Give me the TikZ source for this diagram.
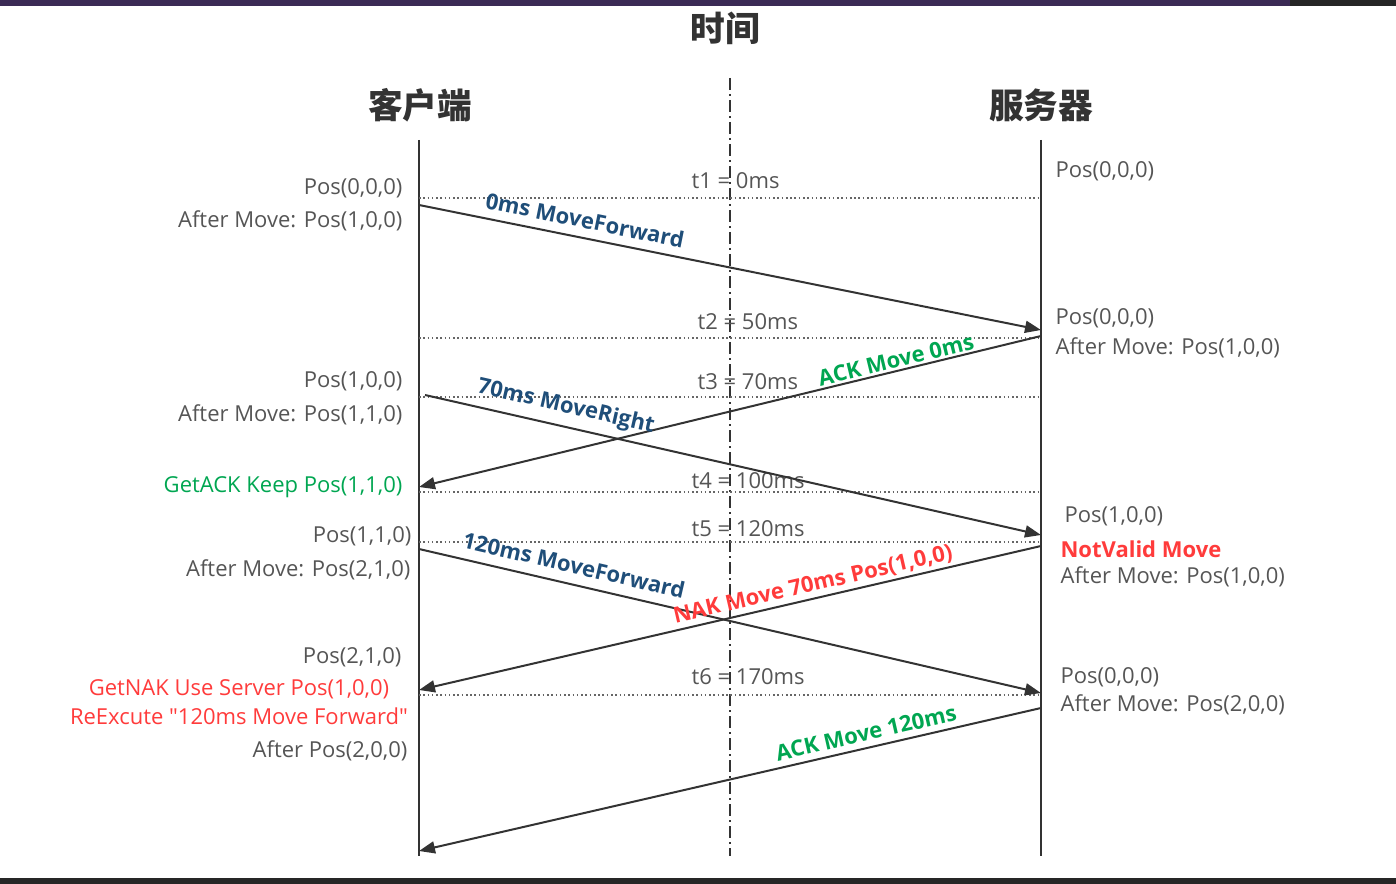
\documentclass[tikz,border=0pt]{standalone}
\usepackage{fontspec}
\setmainfont{Open Sans}
\newfontfamily\rawq{Open Sans}[Ligatures=ResetAll]
\newfontfamily\cjk{Noto Sans CJK SC}
\usetikzlibrary{arrows.meta}
\definecolor{txt}{HTML}{555555}
\definecolor{msgblue}{HTML}{1F4E79}
\definecolor{msggreen}{HTML}{00A651}
\definecolor{msgred}{HTML}{FF3B3B}
\begin{document}
\begin{tikzpicture}[x=0.75pt,y=-0.75pt,
  lbl/.style={font=\fontsize{16.5}{19}\selectfont,text=txt,inner sep=1pt},
  hdr/.style={font=\cjk\bfseries\fontsize{26}{29}\selectfont,text=black!80},
  msg/.style={font=\bfseries\fontsize{16.5}{19}\selectfont,inner sep=1pt},
  life/.style={line width=1.5pt,black!80},
  tick/.style={dotted,line width=1.2pt,black!60},
  arr/.style={line width=1.5pt,black!80,-{Triangle[length=12pt,width=9pt]}}]
\useasboundingbox (0,0) rectangle (1396,884);
\fill[fill={rgb,255:red,59;green,42;blue,85}] (0,0) rectangle (1396,6);
\fill[black!85] (1290,0) rectangle (1396,6);
\fill[black!85] (0,878) rectangle (1396,884);
% headers
\node[hdr] (ht) at (725,28) {时间};
\node[hdr] (hc) at (420,105) {客户端};
\node[hdr] (hs) at (1041,105) {服务器};
% lifelines
\coordinate (c0) at (419,140); \coordinate (c1) at (419,856);
\coordinate (s0) at (1041,140); \coordinate (s1) at (1041,856);
\coordinate (a0) at (730,78); \coordinate (a1) at (730,856);
\draw[life] (c0) -- (c1);
\draw[life] (s0) -- (s1);
\draw[line width=1.5pt,black!80,dash pattern=on 9pt off 3pt on 1.5pt off 3pt] (a0) -- (a1);
% ticks
\foreach \y in {198,338,397,492,542,695}{\draw[tick] (419,\y) -- (1041,\y);}
% time labels
\node[lbl,anchor=west] (t1) at (690,181) {t1 = 0ms};
\node[lbl,anchor=west] (t2) at (696,322) {t2 = 50ms};
\node[lbl,anchor=west] (t3) at (696,382) {t3 = 70ms};
\node[lbl,anchor=west] (t4) at (690,481) {t4 = 100ms};
\node[lbl,anchor=west] (t5) at (690,529) {t5 = 120ms};
\node[lbl,anchor=west] (t6) at (690,677) {t6 = 170ms};
% arrows
\coordinate (m1a) at (419,205); \coordinate (m1b) at (1041,330);
\coordinate (m2a) at (1041,336); \coordinate (m2b) at (419,487);
\coordinate (m3a) at (425,395); \coordinate (m3b) at (1041,535);
\coordinate (m4a) at (419,549); \coordinate (m4b) at (1041,693);
\coordinate (m5a) at (1041,546); \coordinate (m5b) at (419,690);
\coordinate (m6a) at (1041,708); \coordinate (m6b) at (419,851);
\draw[arr] (m1a) -- (m1b);
\draw[arr] (m2a) -- (m2b);
\draw[arr] (m3a) -- (m3b);
\draw[arr] (m4a) -- (m4b);
\draw[arr] (m5a) -- (m5b);
\draw[arr] (m6a) -- (m6b);
\node[msg,text=msgblue,rotate=-11.4] (l1) at (585,220) {0ms MoveForward};
\node[msg,text=msggreen,rotate=13.6] (l2) at (896,360) {ACK Move 0ms};
\node[msg,text=msgblue,rotate=-12.8] (l3) at (566,407) {70ms MoveRight};
\node[msg,text=msgblue,rotate=-13] (l4) at (574,565) {120ms MoveForward};
\node[msg,text=msgred,rotate=13] (l5) at (813,585) {NAK Move 70ms Pos(1,0,0)};
\node[msg,text=msggreen,rotate=12.9] (l6) at (866,733) {ACK Move 120ms};
% client labels
\node[lbl,anchor=east] (cl1) at (404,188) {Pos(0,0,0)};
\node[lbl,anchor=east] (cl2) at (404,221) {After Move: Pos(1,0,0)};
\node[lbl,anchor=east] (cl3) at (404,381) {Pos(1,0,0)};
\node[lbl,anchor=east] (cl4) at (404,415) {After Move: Pos(1,1,0)};
\node[lbl,anchor=east,text=msggreen] (cl5) at (404,487) {GetACK Keep Pos(1,1,0)};
\node[lbl,anchor=east] (cl6) at (413,536) {Pos(1,1,0)};
\node[lbl,anchor=east] (cl7) at (412,570) {After Move: Pos(2,1,0)};
\node[lbl,anchor=east] (cl8) at (403,657) {Pos(2,1,0)};
\node[lbl,text=msgred] (cl9) at (239,689) {GetNAK Use Server Pos(1,0,0)};
\node[lbl,text=msgred] (cl10) at (239,716) {ReExcute {\rawq"}120ms Move Forward{\rawq"}};
\node[lbl,anchor=east] (cl11) at (409,751) {After Pos(2,0,0)};
% server labels
\node[lbl,anchor=west] (sl1) at (1054,171) {Pos(0,0,0)};
\node[lbl,anchor=west] (sl2) at (1054,318) {Pos(0,0,0)};
\node[lbl,anchor=west] (sl3) at (1054,348) {After Move: Pos(1,0,0)};
\node[lbl,anchor=west] (sl4) at (1063,516) {Pos(1,0,0)};
\node[lbl,anchor=west,text=msgred,font=\bfseries\fontsize{16.5}{19}\selectfont] (sl5) at (1059,549) {NotValid Move};
\node[lbl,anchor=west] (sl6) at (1059,577) {After Move: Pos(1,0,0)};
\node[lbl,anchor=west] (sl7) at (1059,677) {Pos(0,0,0)};
\node[lbl,anchor=west] (sl8) at (1059,705) {After Move: Pos(2,0,0)};
\end{tikzpicture}
\end{document}
